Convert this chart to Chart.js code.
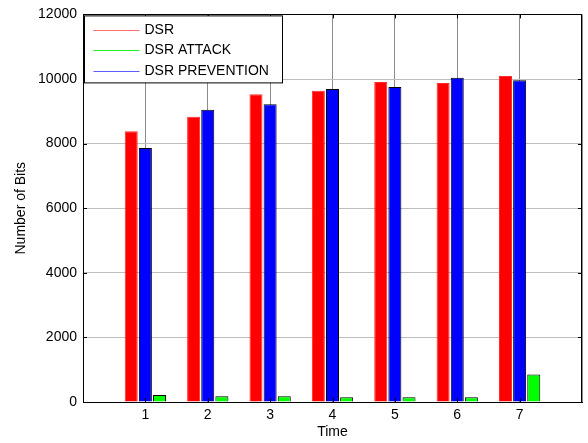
<!DOCTYPE html>
<html lang="en">
<head>
    <meta charset="UTF-8">
    <title>Number of Bits over Time</title>
    <script src="https://cdn.jsdelivr.net/npm/chart.js"></script>
    <style>
        body {
            margin: 0;
            background: #ffffff;
        }
        #bitsChart {
            display: block;
        }
    </style>
</head>
<body>
    <canvas id="bitsChart" width="588" height="443"></canvas>

    <script>
        // values
        const timeLabels = ["1", "2", "3", "4", "5", "6", "7"];
        const dsr = [8380, 8830, 9530, 9640, 9910, 9880, 10090];
        const dsrAttack = [220, 180, 180, 150, 150, 150, 850];
        const dsrPrevention = [7860, 9050, 9220, 9690, 9750, 10040, 9960];
        const yTicks = [0, 2000, 4000, 6000, 8000, 10000, 12000];

        const FONT = "Arial, 'Liberation Sans', sans-serif";

        // empty slots at 0 and 8 so the axis runs from 0 to 8 like the original
        const pad = arr => [null, ...arr, null];
        const labels = ["", ...timeLabels, ""];

        // legend order differs from bar order in the original figure
        const legendItems = [
            { text: "DSR", color: "#ff6a6a" },
            { text: "DSR ATTACK", color: "#22ee22" },
            { text: "DSR PREVENTION", color: "#5c5cff" }
        ];

        const frameAndTicks = {
            id: "frameAndTicks",
            afterDatasetsDraw(chart) {
                const { ctx, chartArea: a, scales } = chart;
                ctx.save();
                ctx.strokeStyle = "#000";
                ctx.lineWidth = 1;
                ctx.strokeRect(Math.round(a.left) + 0.5, Math.round(a.top) + 0.5,
                    Math.round(a.right - a.left) - 1, Math.round(a.bottom - a.top));
                ctx.beginPath();
                yTicks.forEach(v => {
                    const y = Math.round(scales.y.getPixelForValue(v)) + 0.5;
                    ctx.moveTo(a.left, y); ctx.lineTo(a.left + 4, y);
                    ctx.moveTo(a.right, y); ctx.lineTo(a.right - 4, y);
                });
                timeLabels.forEach((t, i) => {
                    const x = Math.round(scales.x.getPixelForValue(i + 1)) + 0.5;
                    ctx.moveTo(x, a.top); ctx.lineTo(x, a.top + 4);
                    ctx.moveTo(x, a.bottom); ctx.lineTo(x, a.bottom - 4);
                });
                ctx.stroke();

                // legend box in the top left corner
                const lx = a.left + 1.5, ly = a.top + 1.5, lw = 198, lh = 67;
                ctx.fillStyle = "#fff";
                ctx.fillRect(lx, ly, lw, lh);
                ctx.strokeRect(lx, ly, lw, lh);
                ctx.font = "14px " + FONT;
                ctx.textBaseline = "middle";
                legendItems.forEach((item, i) => {
                    const y = Math.round(ly + 14 + i * 20.5) + 0.5;
                    ctx.strokeStyle = item.color;
                    ctx.lineWidth = 1.2;
                    ctx.beginPath();
                    ctx.moveTo(lx + 9, y); ctx.lineTo(lx + 55, y);
                    ctx.stroke();
                    ctx.fillStyle = "#000";
                    ctx.fillText(item.text, lx + 60, y);
                });
                ctx.restore();
            }
        };

        const ctx = document.getElementById("bitsChart").getContext("2d");
        new Chart(ctx, {
            type: "bar",
            data: {
                labels: labels,
                datasets: [
                    {
                        label: "DSR",
                        data: pad(dsr),
                        backgroundColor: "#ff0000",
                        borderColor: "#ff2a2a",
                        borderWidth: 1
                    },
                    {
                        label: "DSR PREVENTION",
                        data: pad(dsrPrevention),
                        backgroundColor: "#0000ff",
                        borderColor: "#000000",
                        borderWidth: 1
                    },
                    {
                        label: "DSR ATTACK",
                        data: pad(dsrAttack),
                        backgroundColor: "#00ff00",
                        borderColor: "#000000",
                        borderWidth: 1
                    }
                ]
            },
            options: {
                responsive: false,
                animation: false,
                categoryPercentage: 0.68,
                barPercentage: 0.92,
                layout: { padding: { top: 13, right: 6, bottom: 0, left: 0 } },
                plugins: {
                    legend: { display: false },
                    tooltip: { enabled: false }
                },
                scales: {
                    x: {
                        offset: false,
                        grid: { offset: false, color: "#8c8c8c", drawTicks: false },
                        border: { color: "#000" },
                        ticks: {
                            color: "#000",
                            padding: 5,
                            maxRotation: 0,
                            autoSkip: false,
                            font: { family: FONT, size: 14 }
                        },
                        title: {
                            display: true,
                            text: "Time",
                            color: "#000",
                            padding: { top: 0, bottom: 2.5 },
                            font: { family: FONT, size: 14 }
                        },
                        afterFit(scale) { scale.height = 41; }
                    },
                    y: {
                        min: 0,
                        max: 12000,
                        grid: { color: "#bdbdbd", drawTicks: false },
                        border: { color: "#000" },
                        ticks: {
                            stepSize: 2000,
                            color: "#000",
                            padding: 6,
                            font: { family: FONT, size: 14 },
                            callback: v => String(v)
                        },
                        title: {
                            display: true,
                            text: "Number of Bits",
                            color: "#000",
                            padding: { top: 13, bottom: 0 },
                            font: { family: FONT, size: 14 }
                        },
                        afterFit(scale) { scale.width = 83; }
                    }
                }
            },
            plugins: [frameAndTicks]
        });
    </script>
</body>
</html>
